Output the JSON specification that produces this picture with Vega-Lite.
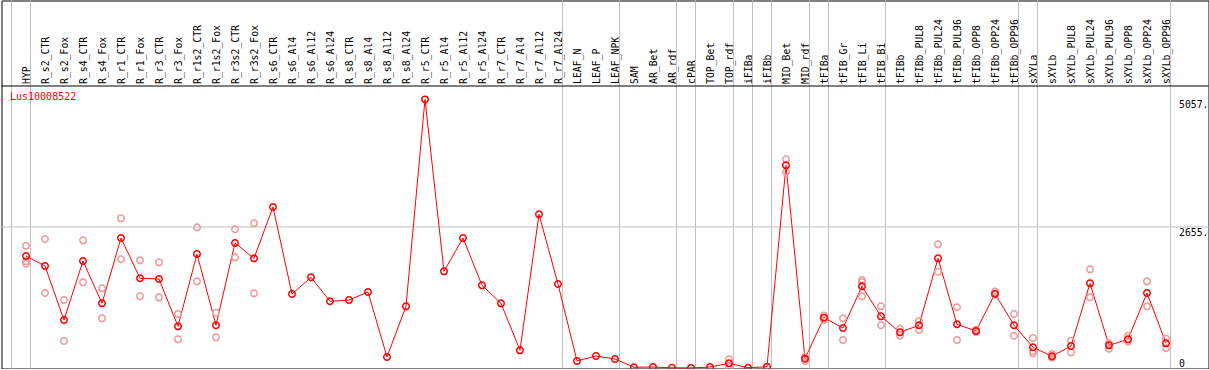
{
  "$schema": "https://vega.github.io/schema/vega-lite/v6.json",
  "width": 1207,
  "height": 368,
  "autosize": {"type": "none"},
  "padding": {"left": 1.5, "top": 0.5, "right": 0, "bottom": 0},
  "background": "white",
  "config": {"view": {"stroke": "black", "strokeWidth": 1}, "font": "DejaVu Sans Mono"},
  "datasets": {
    "means": [
      {"cat": "HYP", "v": 2109}, {"cat": "R_s2_CTR", "v": 1921}, {"cat": "R_s2_Fox", "v": 904}, {"cat": "R_s4_CTR", "v": 2015},
      {"cat": "R_s4_Fox", "v": 1218}, {"cat": "R_r1_CTR", "v": 2448}, {"cat": "R_r1_Fox", "v": 1689}, {"cat": "R_r3_CTR", "v": 1676},
      {"cat": "R_r3_Fox", "v": 785}, {"cat": "R_r1s2_CTR", "v": 2147}, {"cat": "R_r1s2_Fox", "v": 804}, {"cat": "R_r3s2_CTR", "v": 2354},
      {"cat": "R_r3s2_Fox", "v": 2065}, {"cat": "R_s6_CTR", "v": 3032}, {"cat": "R_s6_Al4", "v": 1393}, {"cat": "R_s6_Al12", "v": 1708},
      {"cat": "R_s6_Al24", "v": 1256}, {"cat": "R_s8_CTR", "v": 1280}, {"cat": "R_s8_Al4", "v": 1431}, {"cat": "R_s8_Al12", "v": 207},
      {"cat": "R_s8_Al24", "v": 1161}, {"cat": "R_r5_CTR", "v": 5057}, {"cat": "R_r5_Al4", "v": 1820}, {"cat": "R_r5_Al12", "v": 2448},
      {"cat": "R_r5_Al24", "v": 1557}, {"cat": "R_r7_CTR", "v": 1218}, {"cat": "R_r7_Al4", "v": 333}, {"cat": "R_r7_Al12", "v": 2894},
      {"cat": "R_r7_Al24", "v": 1582}, {"cat": "LEAF_N", "v": 132}, {"cat": "LEAF_P", "v": 226}, {"cat": "LEAF_NPK", "v": 169},
      {"cat": "SAM", "v": 13}, {"cat": "AR_Bet", "v": 19}, {"cat": "AR_rdf", "v": 3}, {"cat": "cPAR", "v": 2},
      {"cat": "TOP_Bet", "v": 19}, {"cat": "TOP_rdf", "v": 88}, {"cat": "iFIBa", "v": 5}, {"cat": "iFIBb", "v": 25},
      {"cat": "MID_Bet", "v": 3816}, {"cat": "MID_rdf", "v": 176}, {"cat": "tFIBa", "v": 948}, {"cat": "tFIB_Gr", "v": 753},
      {"cat": "tFIB_Li", "v": 1538}, {"cat": "tFIB_Bi", "v": 973}, {"cat": "tFIBb", "v": 672}, {"cat": "tFIBb_PUL8", "v": 804},
      {"cat": "tFIBb_PUL24", "v": 2065}, {"cat": "tFIBb_PUL96", "v": 823}, {"cat": "tFIBb_OPP8", "v": 697}, {"cat": "tFIBb_OPP24", "v": 1399},
      {"cat": "tFIBb_OPP96", "v": 804}, {"cat": "sXYLa", "v": 390}, {"cat": "sXYLb", "v": 220}, {"cat": "sXYLb_PUL8", "v": 414},
      {"cat": "sXYLb_PUL24", "v": 1594}, {"cat": "sXYLb_PUL96", "v": 427}, {"cat": "sXYLb_OPP8", "v": 540}, {"cat": "sXYLb_OPP24", "v": 1412},
      {"cat": "sXYLb_OPP96", "v": 465}
    ],
    "reps": [
      {"cat": "HYP", "v": 2300}, {"cat": "HYP", "v": 2010}, {"cat": "HYP", "v": 1965},
      {"cat": "R_s2_CTR", "v": 2429}, {"cat": "R_s2_CTR", "v": 1412},
      {"cat": "R_s2_Fox", "v": 1280}, {"cat": "R_s2_Fox", "v": 508},
      {"cat": "R_s4_CTR", "v": 2404}, {"cat": "R_s4_CTR", "v": 1613},
      {"cat": "R_s4_Fox", "v": 1500}, {"cat": "R_s4_Fox", "v": 935},
      {"cat": "R_r1_CTR", "v": 2818}, {"cat": "R_r1_CTR", "v": 2047},
      {"cat": "R_r1_Fox", "v": 2027}, {"cat": "R_r1_Fox", "v": 1350},
      {"cat": "R_r3_CTR", "v": 1990}, {"cat": "R_r3_CTR", "v": 1331},
      {"cat": "R_r3_Fox", "v": 1017}, {"cat": "R_r3_Fox", "v": 540},
      {"cat": "R_r1s2_CTR", "v": 2649}, {"cat": "R_r1s2_CTR", "v": 1632},
      {"cat": "R_r1s2_Fox", "v": 1042}, {"cat": "R_r1s2_Fox", "v": 578},
      {"cat": "R_r3s2_CTR", "v": 2612}, {"cat": "R_r3s2_CTR", "v": 2084},
      {"cat": "R_r3s2_Fox", "v": 2724}, {"cat": "R_r3s2_Fox", "v": 1406},
      {"cat": "TOP_rdf", "v": 163}, {"cat": "TOP_rdf", "v": 20},
      {"cat": "MID_Bet", "v": 3929}, {"cat": "MID_Bet", "v": 3691},
      {"cat": "MID_rdf", "v": 213}, {"cat": "MID_rdf", "v": 132},
      {"cat": "tFIBa", "v": 990}, {"cat": "tFIBa", "v": 905},
      {"cat": "tFIB_Gr", "v": 935}, {"cat": "tFIB_Gr", "v": 527},
      {"cat": "tFIB_Li", "v": 1657}, {"cat": "tFIB_Li", "v": 1620}, {"cat": "tFIB_Li", "v": 1350},
      {"cat": "tFIB_Bi", "v": 1161}, {"cat": "tFIB_Bi", "v": 804},
      {"cat": "tFIBb", "v": 740}, {"cat": "tFIBb", "v": 610},
      {"cat": "tFIBb_PUL8", "v": 885}, {"cat": "tFIBb_PUL8", "v": 716},
      {"cat": "tFIBb_PUL24", "v": 2329}, {"cat": "tFIBb_PUL24", "v": 1814},
      {"cat": "tFIBb_PUL96", "v": 1143}, {"cat": "tFIBb_PUL96", "v": 527},
      {"cat": "tFIBb_OPP8", "v": 720}, {"cat": "tFIBb_OPP8", "v": 675},
      {"cat": "tFIBb_OPP24", "v": 1440}, {"cat": "tFIBb_OPP24", "v": 1380},
      {"cat": "tFIBb_OPP96", "v": 1017}, {"cat": "tFIBb_OPP96", "v": 608},
      {"cat": "sXYLa", "v": 565}, {"cat": "sXYLa", "v": 320}, {"cat": "sXYLa", "v": 276},
      {"cat": "sXYLb", "v": 264}, {"cat": "sXYLb", "v": 195},
      {"cat": "sXYLb_PUL8", "v": 515}, {"cat": "sXYLb_PUL8", "v": 295},
      {"cat": "sXYLb_PUL24", "v": 1858}, {"cat": "sXYLb_PUL24", "v": 1331},
      {"cat": "sXYLb_PUL96", "v": 465}, {"cat": "sXYLb_PUL96", "v": 364},
      {"cat": "sXYLb_OPP8", "v": 603}, {"cat": "sXYLb_OPP8", "v": 496},
      {"cat": "sXYLb_OPP24", "v": 1632}, {"cat": "sXYLb_OPP24", "v": 1161},
      {"cat": "sXYLb_OPP96", "v": 553}, {"cat": "sXYLb_OPP96", "v": 371}
    ],
    "groupStarts": [
      {"cat": "HYP"}, {"cat": "R_s2_CTR"}, {"cat": "LEAF_N"}, {"cat": "SAM"}, {"cat": "cPAR"}, {"cat": "TOP_Bet"},
      {"cat": "iFIBa"}, {"cat": "iFIBb"}, {"cat": "MID_Bet"}, {"cat": "tFIBa"}, {"cat": "tFIB_Gr"}, {"cat": "tFIBb"},
      {"cat": "sXYLa"}, {"cat": "sXYLb"}
    ],
    "groupEnd": [{"cat": "sXYLb_OPP96"}],
    "hlines": [{"v": 2655, "kind": "grid"}, {"v": 5310, "kind": "frame"}],
    "gene": [{"cat": "HYP", "v": 5310, "label": "Lus10008522"}]
  },
  "layer": [
    {
      "data": {"name": "groupStarts"},
      "mark": {"type": "rule", "color": "#c0c0c0", "strokeWidth": 1},
      "encoding": {
        "x": {"field": "cat", "type": "nominal", "bandPosition": 0,
          "scale": {"domain": ["HYP","R_s2_CTR","R_s2_Fox","R_s4_CTR","R_s4_Fox","R_r1_CTR","R_r1_Fox","R_r3_CTR","R_r3_Fox","R_r1s2_CTR","R_r1s2_Fox","R_r3s2_CTR","R_r3s2_Fox","R_s6_CTR","R_s6_Al4","R_s6_Al12","R_s6_Al24","R_s8_CTR","R_s8_Al4","R_s8_Al12","R_s8_Al24","R_r5_CTR","R_r5_Al4","R_r5_Al12","R_r5_Al24","R_r7_CTR","R_r7_Al4","R_r7_Al12","R_r7_Al24","LEAF_N","LEAF_P","LEAF_NPK","SAM","AR_Bet","AR_rdf","cPAR","TOP_Bet","TOP_rdf","iFIBa","iFIBb","MID_Bet","MID_rdf","tFIBa","tFIB_Gr","tFIB_Li","tFIB_Bi","tFIBb","tFIBb_PUL8","tFIBb_PUL24","tFIBb_PUL96","tFIBb_OPP8","tFIBb_OPP24","tFIBb_OPP96","sXYLa","sXYLb","sXYLb_PUL8","sXYLb_PUL24","sXYLb_PUL96","sXYLb_OPP8","sXYLb_OPP24","sXYLb_OPP96"],
            "range": [10, 1169], "paddingInner": 0, "paddingOuter": 0},
          "axis": {"orient": "top", "offset": -85, "domain": false, "ticks": false, "grid": false, "title": null,
            "labelAngle": -90, "labelAlign": "left", "labelBaseline": "middle", "labelPadding": 2,
            "labelFont": "DejaVu Sans Mono", "labelFontSize": 9.8, "labelColor": "black",
            "bandPosition": 0.66, "labelOffset": 6, "labelOverlap": false, "labelLimit": 0}
        }
      }
    },
    {
      "data": {"name": "groupEnd"},
      "mark": {"type": "rule", "color": "#c0c0c0", "strokeWidth": 1},
      "encoding": {"x": {"field": "cat", "type": "nominal", "bandPosition": 1}}
    },
    {
      "data": {"name": "hlines"},
      "mark": {"type": "rule", "strokeWidth": 1},
      "encoding": {
        "y": {"field": "v", "type": "quantitative",
          "scale": {"domain": [0, 5310], "range": [367.5, 85.5], "nice": false, "zero": true},
          "axis": {"orient": "right", "offset": -38, "values": [0, 2655, 5057], "domain": false, "ticks": false, "grid": false,
            "title": null, "labelFont": "DejaVu Sans Mono", "labelFontSize": 9.8, "labelColor": "black",
            "labelPadding": 8, "labelAlign": "left",
            "labelBaseline": {"condition": {"test": "datum.value == 0", "value": "bottom"}, "value": "top"},
            "labelExpr": "datum.value == 0 ? '0' : datum.value + '.'", "labelFlush": false}},
        "color": {"field": "kind", "type": "nominal", "scale": {"domain": ["grid", "frame"], "range": ["#c0c0c0", "#000000"]}, "legend": null}
      }
    },
    {
      "data": {"name": "means"},
      "mark": {"type": "line", "color": "#ff0000", "strokeWidth": 1},
      "encoding": {
        "x": {"field": "cat", "type": "nominal", "bandPosition": 0.763},
        "y": {"field": "v", "type": "quantitative"}
      }
    },
    {
      "data": {"name": "reps"},
      "mark": {"type": "point", "filled": false, "color": "#ee9a9a", "strokeWidth": 1.5, "size": 42, "opacity": 1},
      "encoding": {
        "x": {"field": "cat", "type": "nominal", "bandPosition": 0.763},
        "y": {"field": "v", "type": "quantitative"}
      }
    },
    {
      "data": {"name": "means"},
      "mark": {"type": "point", "filled": false, "color": "#ff0000", "strokeWidth": 1.5, "size": 42, "opacity": 1},
      "encoding": {
        "x": {"field": "cat", "type": "nominal", "bandPosition": 0.763},
        "y": {"field": "v", "type": "quantitative"}
      }
    },
    {
      "data": {"name": "gene"},
      "mark": {"type": "text", "color": "#ff0000", "font": "DejaVu Sans Mono", "fontSize": 10, "align": "left", "baseline": "middle", "dx": -1.5, "dy": 11},
      "encoding": {
        "x": {"field": "cat", "type": "nominal", "bandPosition": 0},
        "y": {"field": "v", "type": "quantitative"},
        "text": {"field": "label"}
      }
    }
  ]
}
